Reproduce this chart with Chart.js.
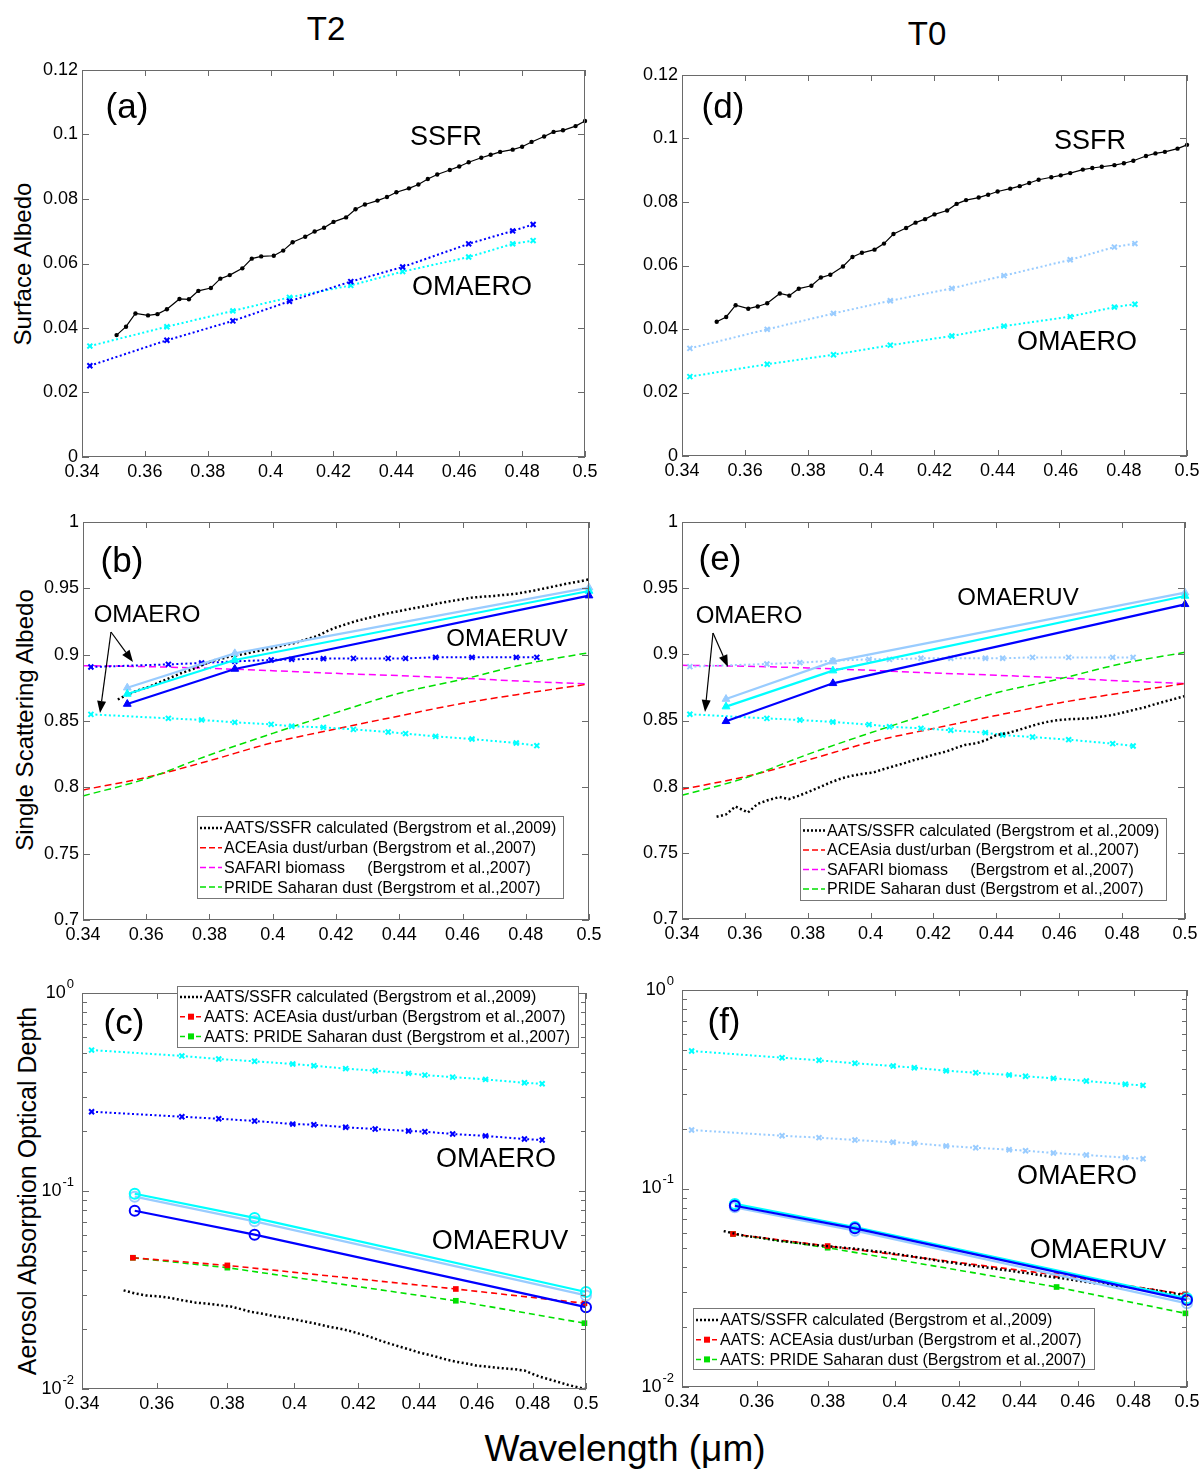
<!DOCTYPE html>
<html>
<head>
<meta charset="utf-8">
<script src="https://cdn.jsdelivr.net/npm/chart.js@4.4.1/dist/chart.umd.min.js"></script>
<style>
body { margin: 0; background: #fff; width: 1203px; height: 1469px; position: relative; overflow: hidden; font-family: "Liberation Sans", Arial, sans-serif; }
canvas { position: absolute; }
.t { position: absolute; white-space: nowrap; color: #000; line-height: 1; transform: translate(-50%, -50%); }
.r { transform: translate(-50%, -50%) rotate(-90deg); }
</style>
</head>
<body>
<div class="t" style="left:326px;top:28px;font-size:33px">T2</div>
<div class="t" style="left:927px;top:33px;font-size:33px">T0</div>
<div class="t r" style="left:23px;top:264px;font-size:24px">Surface Albedo</div>
<div class="t r" style="left:25px;top:720px;font-size:24px">Single Scattering Albedo</div>
<div class="t r" style="left:27px;top:1191px;font-size:25px">Aerosol Absorption Optical Depth</div>
<div class="t" style="left:625px;top:1448px;font-size:37px">Wavelength (&mu;m)</div>
<canvas id="pa"></canvas>
<canvas id="pd"></canvas>
<canvas id="pb"></canvas>
<canvas id="pe"></canvas>
<canvas id="pc"></canvas>
<canvas id="pf"></canvas>
<script>
// wavelengths (um)
const ssfrWl = [0.351, 0.354, 0.357, 0.361, 0.364, 0.367, 0.371, 0.374, 0.377, 0.381, 0.384, 0.387, 0.391, 0.394, 0.397, 0.401,
  0.404, 0.407, 0.411, 0.414, 0.417, 0.420, 0.424, 0.427, 0.430, 0.434, 0.437, 0.440, 0.444, 0.447, 0.450, 0.453, 0.457, 0.460,
  0.463, 0.467, 0.470, 0.473, 0.477, 0.480, 0.483, 0.487, 0.490, 0.493, 0.497, 0.500];
const omaeroWl = [0.3425, 0.367, 0.3775, 0.388, 0.3995, 0.406, 0.416, 0.4255, 0.4365, 0.442, 0.4515, 0.463, 0.477, 0.4835];
const omaeroAlbWl = [0.3425, 0.367, 0.388, 0.406, 0.4255, 0.442, 0.463, 0.477, 0.4835];
const omaeruvWl = [0.354, 0.388, 0.5];
const aatsWl = [0.3535, 0.380, 0.4526, 0.4994];
const bergWl = [0.34, 0.36, 0.38, 0.40, 0.42, 0.44, 0.46, 0.48, 0.50];

// tick labels
const xTicks = [0.34, 0.36, 0.38, 0.40, 0.42, 0.44, 0.46, 0.48, 0.50];
const albTicks = [0, 0.02, 0.04, 0.06, 0.08, 0.10, 0.12];
const ssaTicks = [0.7, 0.75, 0.8, 0.85, 0.9, 0.95, 1];
const aaodTicks = [0.01, 0.1, 1];
const aaodTickExp = ['-2', '-1', '0'];

// (a) surface albedo T2
const albSsfrT2 = [0.0378, 0.0404, 0.0445, 0.0439, 0.0443, 0.0458, 0.0490, 0.0489, 0.0515, 0.0524, 0.0553, 0.0564, 0.0585, 0.0615,
  0.0622, 0.0624, 0.0640, 0.0666, 0.0683, 0.0699, 0.0711, 0.0729, 0.0743, 0.0768, 0.0783, 0.0795, 0.0806, 0.0821, 0.0833, 0.0845,
  0.0862, 0.0876, 0.0890, 0.0901, 0.0914, 0.0928, 0.0937, 0.0946, 0.0953, 0.0962, 0.0977, 0.0994, 0.1008, 0.1013, 0.1026, 0.1042];
const albOmaeroBlueT2 = [0.0283, 0.0362, 0.0422, 0.0483, 0.0544, 0.0589, 0.0661, 0.0701, 0.0721];
const albOmaeroCyanT2 = [0.0344, 0.0404, 0.0453, 0.0495, 0.0532, 0.0575, 0.0620, 0.0661, 0.0671];

// (d) surface albedo T0
const albSsfrT0 = [0.0423, 0.0438, 0.0475, 0.0464, 0.0471, 0.0481, 0.0512, 0.0505, 0.0527, 0.0536, 0.0562, 0.0571, 0.0597, 0.0627,
  0.0640, 0.0650, 0.0669, 0.0699, 0.0718, 0.0735, 0.0746, 0.0761, 0.0773, 0.0794, 0.0806, 0.0814, 0.0823, 0.0833, 0.0842, 0.0850,
  0.0860, 0.0870, 0.0878, 0.0884, 0.0891, 0.0902, 0.0907, 0.0911, 0.0916, 0.0922, 0.0930, 0.0945, 0.0953, 0.0958, 0.0968, 0.0980];
const albOmaeroLbT0 = [0.0339, 0.0399, 0.0449, 0.0489, 0.0528, 0.0568, 0.0618, 0.0658, 0.0669];
const albOmaeroCyanT0 = [0.0250, 0.0289, 0.0319, 0.0349, 0.0378, 0.0409, 0.0439, 0.0469, 0.0478];

// Bergstrom et al. 2007 single scattering albedo
const ssaAceAsia = [0.7980, 0.8075, 0.8201, 0.8337, 0.8440, 0.8538, 0.8633, 0.8709, 0.8779];
const ssaSafari = [0.8917, 0.8910, 0.8897, 0.8879, 0.8859, 0.8842, 0.8822, 0.8799, 0.8779];
const ssaPride = [0.7935, 0.8065, 0.8244, 0.8407, 0.8563, 0.8709, 0.8814, 0.8930, 0.9015];

// (b) single scattering albedo T2
const ssaAatsT2 = [0.8662, 0.8698, 0.8728, 0.8759, 0.8790, 0.8820, 0.8860, 0.8885, 0.8915, 0.8955, 0.8970, 0.8990, 0.9005, 0.9022,
  0.9035, 0.9055, 0.9075, 0.9088, 0.9118, 0.9140, 0.9175, 0.9205, 0.9236, 0.9258, 0.9275, 0.9299, 0.9315, 0.9328, 0.9348, 0.9360,
  0.9375, 0.9390, 0.9407, 0.9418, 0.9430, 0.9438, 0.9443, 0.9450, 0.9459, 0.9472, 0.9485, 0.9505, 0.9520, 0.9535, 0.9552, 0.9568];
const ssaOmaeroBlueT2 = [0.8907, 0.8927, 0.8937, 0.8950, 0.8960, 0.8965, 0.8970, 0.8972, 0.8972, 0.8972, 0.8980, 0.8980, 0.8980, 0.8980];
const ssaOmaeroCyanT2 = [0.8550, 0.8520, 0.8508, 0.8490, 0.8475, 0.8460, 0.8452, 0.8437, 0.8417, 0.8405, 0.8384, 0.8364, 0.8334, 0.8314];
const ssaUvBlueT2 = [0.8628, 0.8892, 0.9445];
const ssaUvCyanT2 = [0.8704, 0.8960, 0.9480];
const ssaUvLbT2 = [0.8751, 0.9010, 0.9505];

// (e) single scattering albedo T0
const ssaAatsT0 = [0.7773, 0.7790, 0.7850, 0.7805, 0.7869, 0.7895, 0.7922, 0.7906, 0.7930, 0.7968, 0.7998, 0.8030, 0.8065, 0.8082,
  0.8095, 0.8108, 0.8132, 0.8152, 0.8180, 0.8203, 0.8220, 0.8242, 0.8265, 0.8292, 0.8315, 0.8330, 0.8355, 0.8390, 0.8408, 0.8428,
  0.8450, 0.8472, 0.8494, 0.8503, 0.8510, 0.8513, 0.8518, 0.8528, 0.8542, 0.8558, 0.8576, 0.8598, 0.8620, 0.8640, 0.8665, 0.8685];
const ssaOmaeroLbT0 = [0.8907, 0.8927, 0.8937, 0.8952, 0.8962, 0.8962, 0.8970, 0.8970, 0.8970, 0.8970, 0.8977, 0.8977, 0.8977, 0.8977];
const ssaOmaeroCyanT0 = [0.8547, 0.8516, 0.8504, 0.8489, 0.8469, 0.8453, 0.8441, 0.8426, 0.8408, 0.8390, 0.8375, 0.8355, 0.8325, 0.8307];
const ssaUvBlueT0 = [0.8494, 0.8781, 0.9378];
const ssaUvCyanT0 = [0.8605, 0.8877, 0.9441];
const ssaUvLbT0 = [0.8662, 0.8945, 0.9466];

// (c) aerosol absorption optical depth T2
const aaodAatsT2 = [0.0315, 0.0304, 0.0297, 0.0293, 0.0288, 0.0281, 0.0273, 0.0270, 0.0266, 0.0261, 0.0253, 0.0245, 0.0239, 0.0233,
  0.0229, 0.0223, 0.0218, 0.0213, 0.0206, 0.0202, 0.0197, 0.0191, 0.0183, 0.0176, 0.0170, 0.0163, 0.0158, 0.0153, 0.0148, 0.0144,
  0.0140, 0.0137, 0.0134, 0.0131, 0.0130, 0.0128, 0.0127, 0.0126, 0.0124, 0.0119, 0.0115, 0.0111, 0.0108, 0.0105, 0.0102, 0.0100];
const aaodOmaeroCyanT2 = [0.515, 0.481, 0.464, 0.452, 0.438, 0.429, 0.415, 0.405, 0.393, 0.385, 0.376, 0.366, 0.352, 0.348];
const aaodOmaeroBlueT2 = [0.2515, 0.2372, 0.2318, 0.2258, 0.2178, 0.2162, 0.2098, 0.2056, 0.2009, 0.1993, 0.1941, 0.1897, 0.1830, 0.1809];
const aaodUvBlueT2 = [0.0795, 0.0602, 0.0259];
const aaodUvCyanT2 = [0.0969, 0.0731, 0.0309];
const aaodUvLbT2 = [0.0936, 0.0703, 0.0297];
const aaodAceT2 = [0.0460, 0.0421, 0.0320, 0.0271];
const aaodPrideT2 = [0.0460, 0.0410, 0.0279, 0.0215];

// (f) aerosol absorption optical depth T0
const aaodAatsT0 = [0.0610, 0.0592, 0.0576, 0.0565, 0.0553, 0.0543, 0.0533, 0.0525, 0.0518, 0.0510, 0.0504, 0.0499, 0.0490, 0.0483,
  0.0477, 0.0466, 0.0458, 0.0450, 0.0440, 0.0431, 0.0425, 0.0418, 0.0410, 0.0404, 0.0398, 0.0390, 0.0385, 0.0379, 0.0372, 0.0366,
  0.0360, 0.0355, 0.0349, 0.0343, 0.0338, 0.0332, 0.0328, 0.0324, 0.0321, 0.0317, 0.0313, 0.0309, 0.0304, 0.0299, 0.0293, 0.0287];
const aaodOmaeroCyanT0 = [0.493, 0.456, 0.4425, 0.4274, 0.414, 0.406, 0.392, 0.383, 0.373, 0.3675, 0.359, 0.348, 0.335, 0.331];
const aaodOmaeroLbT0 = [0.197, 0.1845, 0.1803, 0.1755, 0.1709, 0.169, 0.1637, 0.1605, 0.1568, 0.155, 0.151, 0.1475, 0.143, 0.1413];
const aaodUvBlueT0 = [0.0819, 0.0630, 0.0274];
const aaodUvCyanT0 = [0.0836, 0.0640, 0.0280];
const aaodUvLbT0 = [0.0804, 0.0613, 0.0264];
const aaodAceT0 = [0.0590, 0.0513, 0.0367, 0.0293];
const aaodPrideT0 = [0.0590, 0.0503, 0.0319, 0.0235];

const legendSsa = ['AATS/SSFR calculated (Bergstrom et al.,2009)', 'ACEAsia dust/urban (Bergstrom et al.,2007)',
  'SAFARI biomass     (Bergstrom et al.,2007)', 'PRIDE Saharan dust (Bergstrom et al.,2007)'];
const legendAaod = ['AATS/SSFR calculated (Bergstrom et al.,2009)', 'AATS: ACEAsia dust/urban (Bergstrom et al.,2007)',
  'AATS: PRIDE Saharan dust (Bergstrom et al.,2007)'];

const BLUE = '#0000ff', CYAN = '#00ffff', LB = '#99ccff', RED = '#ff0000', GREEN = '#00e000', MAG = '#ff00ff';
const FONT = '"Liberation Sans", Arial, sans-serif';
Chart.defaults.font.family = FONT;
Chart.defaults.color = '#000';

const fmt = v => String(+Number(v).toFixed(3));
const xy = (xs, ys) => xs.map((x, i) => ({ x, y: ys[i] }));
const base = { showLine: true, fill: false, clip: false };

function ssfrLine(ys) {
  return { ...base, data: xy(ssfrWl, ys), borderColor: '#000', backgroundColor: '#000', borderWidth: 1.2,
    pointStyle: 'circle', pointRadius: 2.2, pointBorderWidth: 0 };
}
function omaero(xs, ys, c) {
  return { ...base, data: xy(xs, ys), borderColor: c, backgroundColor: c, borderWidth: 2, borderDash: [2, 2.5],
    pointStyle: 'crossRot', pointRadius: 3.5, pointBorderWidth: 2 };
}
function calc(ys) {
  return { ...base, data: xy(ssfrWl, ys), borderColor: '#000', borderWidth: 2.5, borderDash: [2, 2.5], pointRadius: 0 };
}
function berg(ys, c) {
  return { ...base, data: xy(bergWl, ys), borderColor: c, borderWidth: 1.5, borderDash: [7, 4], pointRadius: 0,
    cubicInterpolationMode: 'monotone' };
}
function uvTri(ys, c) {
  return { ...base, data: xy(omaeruvWl, ys), borderColor: c, backgroundColor: c, borderWidth: 2.2,
    pointStyle: 'triangle', pointRadius: 4.5, pointBorderWidth: 1 };
}
function uvCirc(ys, c) {
  return { ...base, data: xy(omaeruvWl, ys), borderColor: c, backgroundColor: 'rgba(0,0,0,0)', borderWidth: 2.2,
    pointStyle: 'circle', pointRadius: 5, pointBorderWidth: 2 };
}
function aats(ys, c) {
  return { ...base, data: xy(aatsWl, ys), borderColor: c, backgroundColor: c, borderWidth: 1.6, borderDash: [6, 4],
    pointStyle: 'rect', pointRadius: 4, pointBorderWidth: 0 };
}

// box, inward ticks, annotations and legends
function frame(deco) {
  return {
    id: 'frame',
    afterDraw(chart) {
      const { ctx, chartArea: a, scales: { x, y } } = chart;
      ctx.save();
      ctx.strokeStyle = '#6a6a6a';
      ctx.lineWidth = 1;
      ctx.strokeRect(a.left + 0.5, a.top + 0.5, a.right - a.left - 1, a.bottom - a.top - 1);
      ctx.beginPath();
      x.ticks.forEach(t => {
        const px = Math.round(x.getPixelForValue(t.value)) + 0.5;
        ctx.moveTo(px, a.bottom); ctx.lineTo(px, a.bottom - 6);
        ctx.moveTo(px, a.top); ctx.lineTo(px, a.top + 6);
      });
      const yt = y.ticks.map(t => [t.value, 7]).concat((deco.minor || []).map(v => [v, 5]));
      yt.forEach(([v, len]) => {
        const py = Math.round(y.getPixelForValue(v)) + 0.5;
        ctx.moveTo(a.left, py); ctx.lineTo(a.left + len, py);
        ctx.moveTo(a.right, py); ctx.lineTo(a.right - len, py);
      });
      ctx.stroke();

      ctx.fillStyle = '#000';
      if (deco.logLabels) {
        ctx.textBaseline = 'middle';
        ctx.textAlign = 'right';
        aaodTicks.forEach((v, i) => {
          const py = y.getPixelForValue(v);
          ctx.font = '13px ' + FONT;
          const sw = ctx.measureText(aaodTickExp[i]).width;
          ctx.fillText(aaodTickExp[i], a.left - 8, py - 9);
          ctx.font = '18px ' + FONT;
          ctx.fillText('10', a.left - 9 - sw, py);
        });
      }

      ctx.translate(-deco.ox, -deco.oy);
      (deco.arrows || []).forEach(([x1, y1, x2, y2]) => {
        const ang = Math.atan2(y2 - y1, x2 - x1), hl = 12, hw = 4.5;
        const bx = x2 - hl * Math.cos(ang), by = y2 - hl * Math.sin(ang);
        ctx.strokeStyle = '#000'; ctx.lineWidth = 1.2;
        ctx.beginPath(); ctx.moveTo(x1, y1); ctx.lineTo(bx, by); ctx.stroke();
        ctx.beginPath();
        ctx.moveTo(x2, y2);
        ctx.lineTo(bx + hw * Math.sin(ang), by - hw * Math.cos(ang));
        ctx.lineTo(bx - hw * Math.sin(ang), by + hw * Math.cos(ang));
        ctx.closePath(); ctx.fill();
      });
      ctx.textAlign = 'center';
      ctx.textBaseline = 'middle';
      (deco.notes || []).forEach(([t, nx, ny, s]) => {
        ctx.font = s + 'px ' + FONT;
        ctx.fillText(t, nx, ny);
      });
      const L = deco.legend;
      if (L) {
        ctx.fillStyle = '#fff';
        ctx.fillRect(L.x, L.y, L.w, L.h);
        ctx.strokeStyle = '#777'; ctx.lineWidth = 1;
        ctx.strokeRect(L.x + 0.5, L.y + 0.5, L.w, L.h);
        ctx.font = '16px ' + FONT;
        ctx.textAlign = 'left';
        L.rows.forEach((r, i) => {
          const cy = L.y + L.top + i * L.dy;
          ctx.strokeStyle = r.color; ctx.lineWidth = r.width; ctx.setLineDash(r.dash);
          ctx.beginPath(); ctx.moveTo(L.x + 3, cy); ctx.lineTo(L.x + 25, cy); ctx.stroke();
          ctx.setLineDash([]);
          if (r.marker) { ctx.fillStyle = r.color; ctx.fillRect(L.x + 11, cy - 3, 6, 6); }
          ctx.fillStyle = '#000';
          ctx.fillText(r.label, L.x + 27, cy + 1);
        });
      }
      ctx.restore();
    }
  };
}

function panel(id, box, xLog, yAxis, datasets, deco) {
  const cv = document.getElementById(id);
  const ox = box[0] - 70, oy = box[1] - 20;
  cv.width = box[2] - box[0] + 95;
  cv.height = box[3] - box[1] + 55;
  cv.style.left = ox + 'px';
  cv.style.top = oy + 'px';
  deco.ox = ox; deco.oy = oy;
  new Chart(cv, {
    type: 'scatter',
    data: { datasets },
    options: {
      responsive: false,
      animation: false,
      devicePixelRatio: 1,
      layout: { padding: { left: 0, top: 20, right: 25, bottom: 0 } },
      plugins: { legend: { display: false }, tooltip: { enabled: false } },
      scales: {
        x: {
          type: xLog ? 'logarithmic' : 'linear', min: 0.34, max: 0.5,
          afterBuildTicks: s => { s.ticks = xTicks.map(v => ({ value: v })); },
          afterFit: s => { s.height = 35; },
          grid: { display: false, drawTicks: false },
          border: { display: false },
          ticks: { font: { size: 18 }, padding: 4, maxRotation: 0, autoSkip: false, callback: fmt }
        },
        y: Object.assign({
          afterFit: s => { s.width = 70; },
          grid: { display: false, drawTicks: false },
          border: { display: false }
        }, yAxis)
      }
    },
    plugins: [frame(deco)]
  });
}

const linY = (min, max, ticks) => ({
  type: 'linear', min, max,
  afterBuildTicks: s => { s.ticks = ticks.map(v => ({ value: v })); },
  ticks: { font: { size: 18 }, padding: 4, autoSkip: false, callback: fmt }
});
const logY = {
  type: 'logarithmic', min: 0.01, max: 1,
  afterBuildTicks: s => { s.ticks = aaodTicks.map(v => ({ value: v })); },
  ticks: { display: false }
};
const minorLog = [0.01, 0.1].flatMap(d => [2, 3, 4, 5, 6, 7, 8, 9].map(k => d * k));

const ssaLegendRows = [
  { label: legendSsa[0], color: '#000', dash: [2, 2], width: 2.5 },
  { label: legendSsa[1], color: RED, dash: [6, 3], width: 1.5 },
  { label: legendSsa[2], color: MAG, dash: [6, 3], width: 1.5 },
  { label: legendSsa[3], color: GREEN, dash: [6, 3], width: 1.5 }
];
const aaodLegendRows = [
  { label: legendAaod[0], color: '#000', dash: [2, 2], width: 2.5 },
  { label: legendAaod[1], color: RED, dash: [5, 3], width: 1.5, marker: true },
  { label: legendAaod[2], color: GREEN, dash: [5, 3], width: 1.5, marker: true }
];

panel('pa', [82, 70, 585, 457], false, linY(0, 0.12, albTicks), [
  ssfrLine(albSsfrT2),
  omaero(omaeroAlbWl, albOmaeroBlueT2, BLUE),
  omaero(omaeroAlbWl, albOmaeroCyanT2, CYAN)
], { notes: [['(a)', 127, 108, 35], ['SSFR', 446, 138, 27], ['OMAERO', 472, 288, 27]] });

panel('pd', [682, 75, 1187, 456], false, linY(0, 0.12, albTicks), [
  ssfrLine(albSsfrT0),
  omaero(omaeroAlbWl, albOmaeroLbT0, LB),
  omaero(omaeroAlbWl, albOmaeroCyanT0, CYAN)
], { notes: [['(d)', 723, 108, 35], ['SSFR', 1090, 142, 27], ['OMAERO', 1077, 343, 27]] });

panel('pb', [83, 522, 589, 920], false, linY(0.7, 1, ssaTicks), [
  uvTri(ssaUvBlueT2, BLUE),
  uvTri(ssaUvCyanT2, CYAN),
  uvTri(ssaUvLbT2, LB),
  calc(ssaAatsT2),
  omaero(omaeroWl, ssaOmaeroBlueT2, BLUE),
  omaero(omaeroWl, ssaOmaeroCyanT2, CYAN),
  berg(ssaPride, GREEN),
  berg(ssaAceAsia, RED),
  berg(ssaSafari, MAG)
], {
  notes: [['(b)', 122, 562, 35], ['OMAERO', 147, 615, 24], ['OMAERUV', 507, 639, 24]],
  arrows: [[111, 632, 133, 662], [111, 632, 100, 713]],
  legend: { x: 197, y: 816, w: 366, h: 82, top: 12, dy: 19.7, rows: ssaLegendRows }
});

panel('pe', [682, 522, 1185, 919], false, linY(0.7, 1, ssaTicks), [
  uvTri(ssaUvBlueT0, BLUE),
  uvTri(ssaUvCyanT0, CYAN),
  uvTri(ssaUvLbT0, LB),
  calc(ssaAatsT0),
  omaero(omaeroWl, ssaOmaeroLbT0, LB),
  omaero(omaeroWl, ssaOmaeroCyanT0, CYAN),
  berg(ssaPride, GREEN),
  berg(ssaAceAsia, RED),
  berg(ssaSafari, MAG)
], {
  notes: [['(e)', 720, 560, 35], ['OMAERO', 749, 616, 24], ['OMAERUV', 1018, 598, 24]],
  arrows: [[713, 633, 728, 667], [713, 633, 705, 712]],
  legend: { x: 800, y: 818, w: 366, h: 82, top: 12.5, dy: 19.5, rows: ssaLegendRows }
});

panel('pc', [82, 993, 586, 1389], true, logY, [
  omaero(omaeroWl, aaodOmaeroCyanT2, CYAN),
  omaero(omaeroWl, aaodOmaeroBlueT2, BLUE),
  uvCirc(aaodUvBlueT2, BLUE),
  uvCirc(aaodUvCyanT2, CYAN),
  uvCirc(aaodUvLbT2, LB),
  aats(aaodAceT2, RED),
  aats(aaodPrideT2, GREEN),
  calc(aaodAatsT2)
], {
  minor: minorLog, logLabels: true,
  notes: [['(c)', 124, 1024, 35], ['OMAERO', 496, 1160, 27], ['OMAERUV', 500, 1242, 27]],
  legend: { x: 177, y: 986, w: 401, h: 61, top: 11, dy: 19.7, rows: aaodLegendRows }
});

panel('pf', [682, 990, 1187, 1387], true, logY, [
  omaero(omaeroWl, aaodOmaeroCyanT0, CYAN),
  omaero(omaeroWl, aaodOmaeroLbT0, LB),
  uvCirc(aaodUvBlueT0, BLUE),
  uvCirc(aaodUvCyanT0, CYAN),
  uvCirc(aaodUvLbT0, LB),
  calc(aaodAatsT0),
  aats(aaodAceT0, RED),
  aats(aaodPrideT0, GREEN)
], {
  minor: minorLog, logLabels: true,
  notes: [['(f)', 724, 1023, 35], ['OMAERO', 1077, 1177, 27], ['OMAERUV', 1098, 1251, 27]],
  legend: { x: 693, y: 1308, w: 401, h: 61, top: 12, dy: 19.7, rows: aaodLegendRows }
});
</script>
</body>
</html>
